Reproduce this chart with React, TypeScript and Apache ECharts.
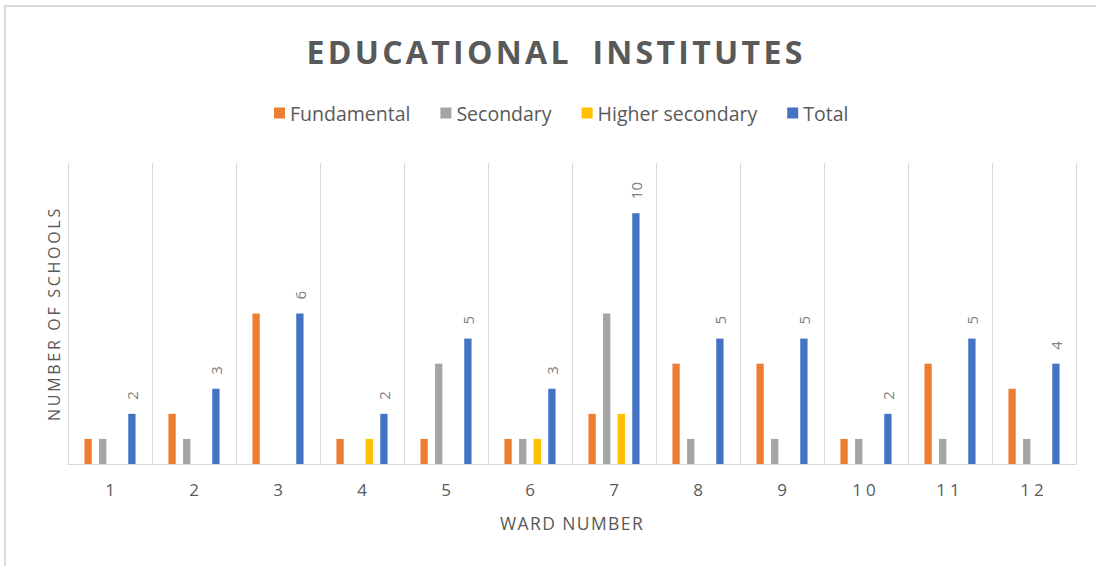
import React, { useEffect, useRef } from "react";
import * as echarts from "echarts";

const categories = ["1", "2", "3", "4", "5", "6", "7", "8", "9", "10", "11", "12"];
const fundamental = [1, 2, 6, 1, 1, 1, 2, 4, 4, 1, 4, 3];
const secondary = [1, 1, 0, 0, 4, 1, 6, 1, 1, 1, 1, 1];
const higherSecondary = [0, 0, 0, 1, 0, 1, 2, 0, 0, 0, 0, 0];
const total = [2, 3, 6, 2, 5, 3, 10, 5, 5, 2, 5, 4];

const TITLE = "EDUCATIONAL INSTITUTES";
const X_NAME = "WARD NUMBER";
const Y_NAME = "NUMBER OF SCHOOLS";

const FONT = "'Open Sans', 'Noto Sans', sans-serif";
const TXT = "#595959";

export default function App() {
  const ref = useRef<HTMLDivElement>(null);
  useEffect(() => {
    if (!ref.current) return;
    const el = ref.current;
    const chart = echarts.init(el, null, { renderer: "svg" });
    const bar = (name: string, data: number[], color: string, label = false) => ({
      name,
      type: "bar",
      data,
      barWidth: 7.3,
      barGap: "100%",
      itemStyle: { color },
      label: label
        ? {
            show: true,
            position: "top",
            rotate: 90,
            align: "left",
            verticalAlign: "middle",
            distance: 14,
            color: "#808080",
            fontSize: 15,
            fontFamily: FONT,
          }
        : { show: false },
    });
    chart.setOption({
      animation: false,
      backgroundColor: "#ffffff",
      textStyle: { fontFamily: FONT },
      title: {
        text: TITLE,
        left: 551,
        textAlign: "center",
        top: 30,
        textStyle: { fontSize: 32, fontWeight: "bold", color: TXT, fontFamily: FONT },
      },
      legend: {
        left: 269,
        top: 98,
        itemWidth: 11,
        itemHeight: 11,
        itemGap: 30,
        icon: "rect",
        textStyle: { fontSize: 19.5, color: TXT, fontFamily: FONT },
        data: ["Fundamental", "Secondary", "Higher secondary", "Total"],
      },
      graphic: [
        {
          type: "rect",
          shape: { x: 5, y: 6, width: 1400, height: 1400 },
          style: { fill: "none", stroke: "#d9d9d9", lineWidth: 2 },
          silent: true,
        },
      ],
      grid: { left: 68, right: 20, top: 163, bottom: 102 },
      xAxis: {
        type: "category",
        data: categories,
        name: X_NAME,
        nameLocation: "middle",
        nameGap: 50,
        nameTextStyle: { fontSize: 17.5, color: TXT, fontFamily: FONT },
        axisLine: { show: true, lineStyle: { color: "#d9d9d9", width: 1 } },
        axisTick: { show: false },
        axisLabel: { fontSize: 17, color: TXT, margin: 17, fontFamily: FONT },
        splitLine: { show: true, lineStyle: { color: "#d9d9d9", width: 1 } },
      },
      yAxis: {
        type: "value",
        min: 0,
        max: 12,
        interval: 2,
        name: Y_NAME,
        nameLocation: "middle",
        nameRotate: 90,
        nameGap: 6,
        nameTextStyle: { fontSize: 16, color: TXT, fontFamily: FONT },
        axisLine: { show: false },
        axisTick: { show: false },
        axisLabel: { show: false },
        splitLine: { show: false },
      },
      series: [
        bar("Fundamental", fundamental, "#ED7D31"),
        bar("Secondary", secondary, "#A5A5A5"),
        bar("Higher secondary", higherSecondary, "#FFC000"),
        bar("Total", total, "#4472C4", true),
      ],
    });

    const spacing = () => {
      el.querySelectorAll("text").forEach((t) => {
        const s = (t.textContent || "").trim();
        const st = (t as SVGTextElement).style;
        if (s === TITLE) {
          st.letterSpacing = "3.3px";
          st.wordSpacing = "9px";
        } else if (s === Y_NAME) {
          st.letterSpacing = "2.7px";
        } else if (s === X_NAME) {
          st.letterSpacing = "1.4px";
        } else if (s === "10" || s === "11" || s === "12") {
          const fill = t.getAttribute("fill") || "";
          if (fill.toLowerCase() !== "#808080") st.letterSpacing = "4px";
        }
      });
    };
    spacing();
    chart.on("finished", spacing);
    return () => chart.dispose();
  }, []);
  return (
    <div
      ref={ref}
      style={{ position: "fixed", left: 0, top: 0, width: 1096, height: 566, background: "#fff" }}
    />
  );
}
